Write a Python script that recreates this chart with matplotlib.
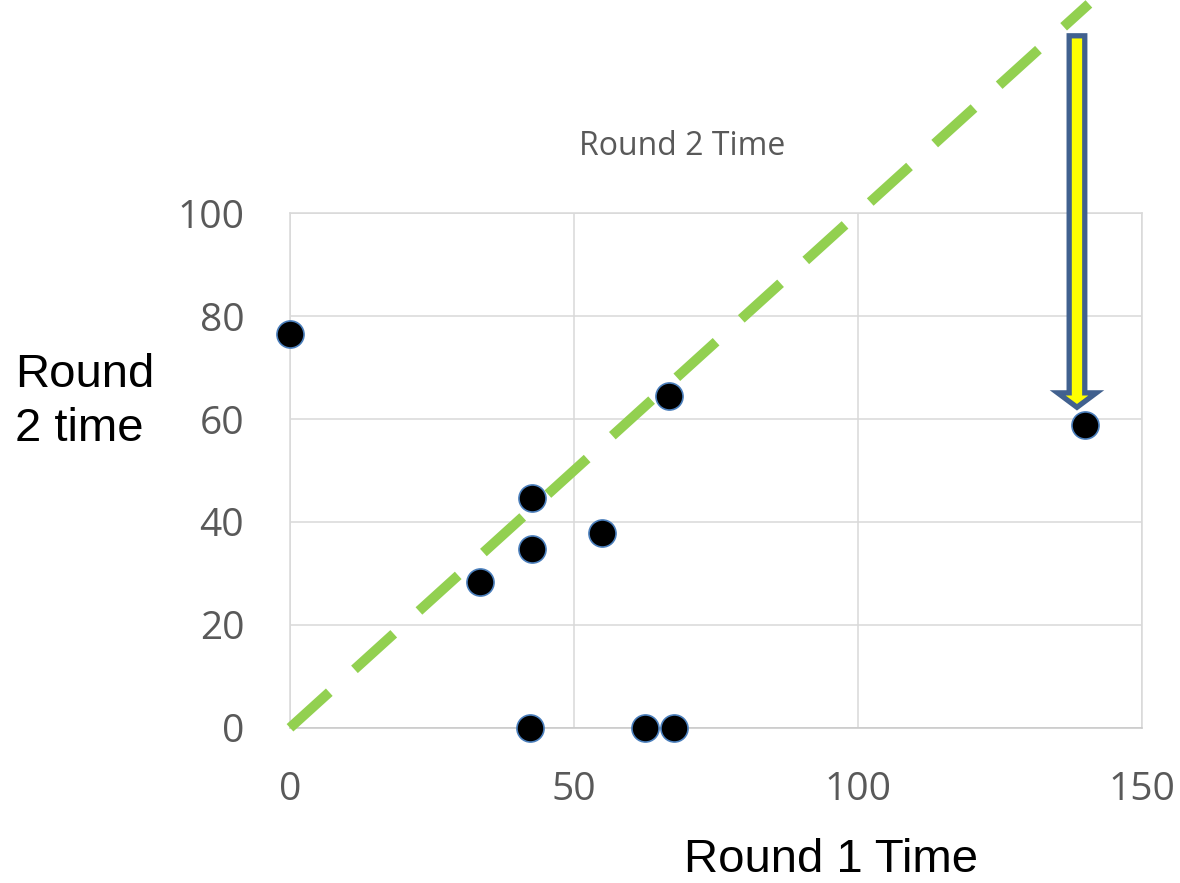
import matplotlib.pyplot as plt
from matplotlib.patches import FancyArrow

# scatter data
round1_time = [0, 66.7, 140, 42.7, 42.7, 55, 33.5, 42.3, 62.6, 67.7]
round2_time = [76.5, 64.4, 58.8, 44.7, 34.8, 37.9, 28.4, 0, 0, 0]

# y = x reference line (drawn past the top of the plot area)
ref_x = [0, 140.7]
ref_y = [0, 140.7]

# arrow pointing at the outlier
arrow_x = 138.6
arrow_top = 134.5
arrow_bottom = 62.3

x_ticks = [0, 50, 100, 150]
y_ticks = [0, 20, 40, 60, 80, 100]

W, H = 1180, 883
fig = plt.figure(figsize=(W / 100, H / 100), dpi=100)
ax = fig.add_axes([290 / W, 1 - 727.8 / H, (1141.7 - 290) / W, (727.8 - 213.3) / H])

grid_col = '#D9D9D9'
text_grey = '#595959'

ax.scatter(round1_time, round2_time, s=380, c='black', edgecolors='#4A7EBB',
           linewidths=1.2, zorder=3, clip_on=False)
ax.plot(ref_x, ref_y, color='#92D050', lw=7.2, dashes=(5.3, 3.4),
        solid_capstyle='butt', dash_capstyle='butt', zorder=4, clip_on=False)

arr = FancyArrow(arrow_x, arrow_top, 0, arrow_bottom - arrow_top, width=2.75,
                 head_width=6.8, head_length=2.8, length_includes_head=True,
                 facecolor='#FFFF00', edgecolor='#41618F', linewidth=3.8,
                 joinstyle='miter', zorder=5, clip_on=False)
ax.add_patch(arr)

ax.set_xlim(0, 150)
ax.set_ylim(0, 100)
ax.set_xticks(x_ticks)
ax.set_yticks(y_ticks)
ax.grid(True, color=grid_col, lw=1.1, zorder=0)
ax.set_axisbelow(True)
for sp in ax.spines.values():
    sp.set_color(grid_col)
    sp.set_linewidth(1.1)
ax.spines['bottom'].set_color('#C8C8C8')
ax.tick_params(length=0, labelsize=28, labelcolor=text_grey, pad=31)
ax.tick_params(axis='y', pad=33)
for lab in ax.get_xticklabels() + ax.get_yticklabels():
    lab.set_family('Open Sans')

fig.text(682 / W, 1 - 146 / H, 'Round 2 Time', ha='center', va='center',
         fontsize=23, color=text_grey, family='Open Sans')
fig.text(15 / W, 1 - 402 / H, 'Round\n2 time', ha='left', va='center',
         fontsize=34, color='black', family='Liberation Sans', linespacing=1.32)
fig.text(831 / W, 1 - 860 / H, 'Round 1 Time', ha='center', va='center',
         fontsize=34, color='black', family='Liberation Sans')

fig.savefig('out.png', dpi=100)
